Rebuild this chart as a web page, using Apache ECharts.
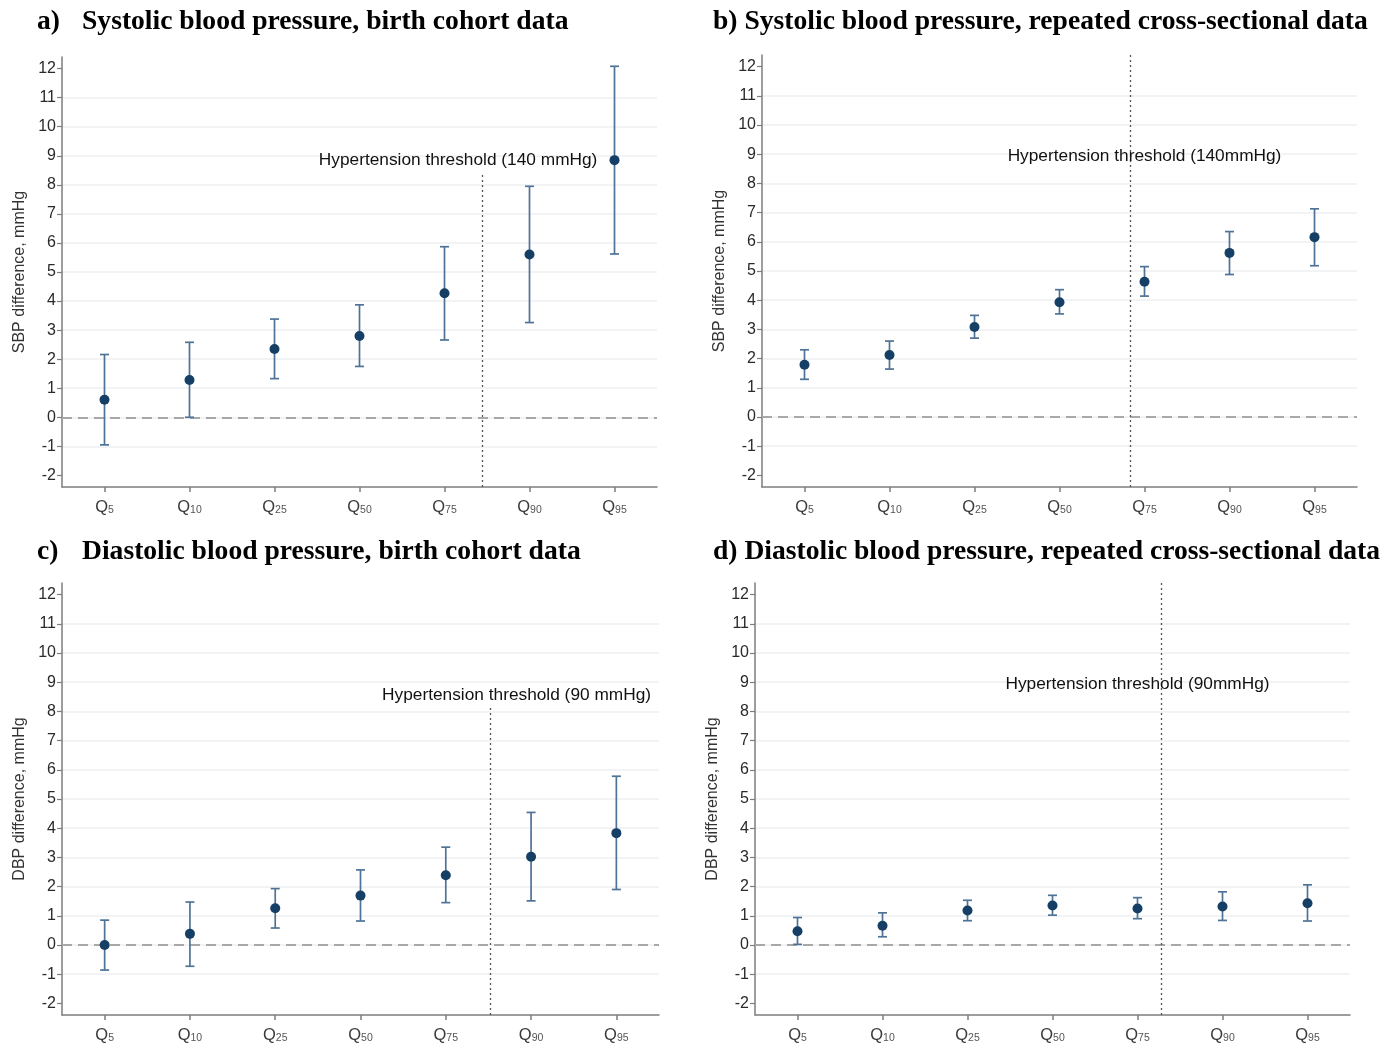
<!DOCTYPE html>
<html>
<head>
<meta charset="utf-8">
<script src="https://cdn.jsdelivr.net/npm/echarts@6/dist/echarts.min.js"></script>
<style>
html,body{margin:0;padding:0;background:#fff;}
#chart{width:1385px;height:1046px;}
</style>
</head>
<body>
<div id="chart"></div>
<script>
// ---------- data ----------
const quantiles = ['5', '10', '25', '50', '75', '90', '95'];
const catPos = [0, 1, 2, 3, 4, 5, 6];
const yTicks = [-2, -1, 0, 1, 2, 3, 4, 5, 6, 7, 8, 9, 10, 11, 12];
const yMin = -2.4;
const yMax = 12.4;

const panelLetters = ['a)', 'b)', 'c)', 'd)'];
const panelTitles = [
  'Systolic blood pressure, birth cohort data',
  'Systolic blood pressure, repeated cross-sectional data',
  'Diastolic blood pressure, birth cohort data',
  'Diastolic blood pressure, repeated cross-sectional data'
];
const yNames = ['SBP difference, mmHg', 'SBP difference, mmHg', 'DBP difference, mmHg', 'DBP difference, mmHg'];

const sbpCohortEst = [0.60, 1.28, 2.35, 2.80, 4.27, 5.60, 8.85];
const sbpCohortLo  = [-0.95, 0.00, 1.33, 1.75, 2.66, 3.26, 5.62];
const sbpCohortHi  = [2.16, 2.58, 3.38, 3.87, 5.87, 7.95, 12.08];

const sbpCrossEst = [1.79, 2.12, 3.08, 3.93, 4.63, 5.62, 6.16];
const sbpCrossLo  = [1.29, 1.64, 2.70, 3.53, 4.14, 4.88, 5.18];
const sbpCrossHi  = [2.30, 2.60, 3.48, 4.36, 5.15, 6.35, 7.13];

const dbpCohortEst = [0.00, 0.38, 1.26, 1.69, 2.39, 3.02, 3.83];
const dbpCohortLo  = [-0.86, -0.73, 0.58, 0.82, 1.45, 1.51, 1.90];
const dbpCohortHi  = [0.85, 1.47, 1.93, 2.57, 3.35, 4.54, 5.78];

const dbpCrossEst = [0.47, 0.66, 1.18, 1.35, 1.25, 1.32, 1.43];
const dbpCrossLo  = [0.02, 0.28, 0.83, 1.02, 0.90, 0.84, 0.82];
const dbpCrossHi  = [0.94, 1.10, 1.53, 1.70, 1.62, 1.82, 2.06];

const thresholdLabels = [
  'Hypertension threshold (140 mmHg)',
  'Hypertension threshold (140mmHg)',
  'Hypertension threshold (90 mmHg)',
  'Hypertension threshold (90mmHg)'
];
const thresholdX = [4.44, 3.83, 4.52, 4.28];
const thresholdTop = [8.39, 12.4, 8.16, 12.4];
const thresholdLabelX = [4.16, 4.0, 4.83, 4.0];
const thresholdLabelY = [8.83, 8.94, 8.56, 8.93];

const estimates = [sbpCohortEst, sbpCrossEst, dbpCohortEst, dbpCrossEst];
const lowers = [sbpCohortLo, sbpCrossLo, dbpCohortLo, dbpCrossLo];
const uppers = [sbpCohortHi, sbpCrossHi, dbpCohortHi, dbpCrossHi];

// ---------- layout / style ----------
const grids = [
  {left: 62, top: 57, width: 595, height: 430},
  {left: 762, top: 55, width: 595, height: 432},
  {left: 62, top: 583, width: 597, height: 432},
  {left: 755, top: 583, width: 595, height: 432}
];
const titlePos = [
  {left: 37, top: 8}, {left: 713, top: 8}, {left: 37, top: 538}, {left: 713, top: 538}
];
const letterWidth = [45, null, 45, null];

const sans = '"Liberation Sans", Arial, sans-serif';
const serif = '"Liberation Serif", "Times New Roman", serif';
const axisGray = '#7d7d7d';
const markerColor = '#163f66';
const barColor = '#4f7396';

const option = {
  animation: false,
  backgroundColor: '#fff',
  title: [], grid: [], xAxis: [], yAxis: [], series: []
};

for (let i = 0; i < 4; i++) {
  const letterStyle = {fontFamily: serif, fontWeight: 'bold', fontSize: 27.6, color: '#000'};
  if (letterWidth[i]) letterStyle.width = letterWidth[i];
  option.title.push({
    text: '{l|' + panelLetters[i] + (letterWidth[i] ? '' : ' ') + '}{t|' + panelTitles[i] + '}',
    left: titlePos[i].left, top: titlePos[i].top, padding: 0,
    textStyle: {
      rich: {
        l: letterStyle,
        t: {fontFamily: serif, fontWeight: 'bold', fontSize: 27.6, color: '#000'}
      }
    }
  });
  option.grid.push(Object.assign({containLabel: false}, grids[i]));
  option.xAxis.push({
    gridIndex: i, type: 'value', min: -0.5, max: 6.5,
    axisLine: {onZero: false, lineStyle: {color: axisGray, width: 1.5}},
    axisTick: {show: true, customValues: catPos, length: 5, lineStyle: {color: axisGray, width: 1.5}},
    axisLabel: {
      customValues: catPos, margin: 9,
      formatter: v => '{q|Q}{s|' + quantiles[Math.round(v)] + '}',
      rich: {
        q: {fontFamily: sans, fontSize: 16.5, color: '#3a3a3a', lineHeight: 20, verticalAlign: 'bottom'},
        s: {fontFamily: sans, fontSize: 10.5, color: '#555', lineHeight: 16, verticalAlign: 'bottom'}
      }
    },
    splitLine: {show: false}
  });
  option.yAxis.push({
    gridIndex: i, type: 'value', min: yMin, max: yMax, minInterval: 1, maxInterval: 1,
    name: yNames[i], nameLocation: 'middle', nameGap: 34,
    nameTextStyle: {fontFamily: sans, fontSize: 16, color: '#333'},
    axisLine: {show: true, onZero: false, lineStyle: {color: axisGray, width: 1.5}},
    axisTick: {show: true, customValues: yTicks, length: 5, lineStyle: {color: axisGray, width: 1.2}},
    axisLabel: {customValues: yTicks, fontFamily: sans, fontSize: 16, color: '#2a2a2a', margin: 6},
    splitLine: {show: true, showMinLine: false, showMaxLine: false, lineStyle: {color: '#eceff2', width: 1.5}}
  });

  // reference lines (zero + threshold)
  option.series.push({
    type: 'line', xAxisIndex: i, yAxisIndex: i, data: [], silent: true, z: 1,
    markLine: {
      silent: true, symbol: 'none', z: 1, animation: false,
      label: {show: false},
      data: [
        {yAxis: 0, lineStyle: {type: [10, 6], color: '#a8a8a8', width: 2}},
        [
          {coord: [thresholdX[i], yMin], lineStyle: {type: [2, 3], color: '#555', width: 1.3}},
          {coord: [thresholdX[i], thresholdTop[i]]}
        ]
      ]
    }
  });

  // error bars
  const barData = catPos.map((p, k) => [p, lowers[i][k], uppers[i][k]]);
  option.series.push({
    type: 'custom', xAxisIndex: i, yAxisIndex: i, z: 3, silent: true,
    data: barData,
    renderItem: function (params, api) {
      const x = api.value(0);
      const lo = api.coord([x, api.value(1)]);
      const hi = api.coord([x, api.value(2)]);
      const cap = 4.5;
      const style = {stroke: barColor, lineWidth: 1.7, fill: null};
      return {
        type: 'group',
        children: [
          {type: 'line', shape: {x1: lo[0], y1: lo[1], x2: hi[0], y2: hi[1]}, style: style},
          {type: 'line', shape: {x1: lo[0] - cap, y1: lo[1], x2: lo[0] + cap, y2: lo[1]}, style: style},
          {type: 'line', shape: {x1: hi[0] - cap, y1: hi[1], x2: hi[0] + cap, y2: hi[1]}, style: style}
        ]
      };
    }
  });

  // point estimates
  option.series.push({
    type: 'scatter', xAxisIndex: i, yAxisIndex: i, z: 4, silent: true,
    symbol: 'circle', symbolSize: 10,
    itemStyle: {color: markerColor, opacity: 1},
    data: catPos.map((p, k) => [p, estimates[i][k]])
  });

  // threshold label
  const labelText = thresholdLabels[i];
  option.series.push({
    type: 'custom', xAxisIndex: i, yAxisIndex: i, z: 5, silent: true,
    data: [[thresholdLabelX[i], thresholdLabelY[i]]],
    renderItem: function (params, api) {
      const p = api.coord([api.value(0), api.value(1)]);
      return {
        type: 'text', x: p[0], y: p[1],
        style: {
          text: labelText, fill: '#111', align: 'center', verticalAlign: 'middle',
          font: '17.3px "Liberation Sans", Arial, sans-serif'
        }
      };
    }
  });
}

const chart = echarts.init(document.getElementById('chart'), null, {renderer: 'canvas'});
chart.setOption(option);
</script>
</body>
</html>
